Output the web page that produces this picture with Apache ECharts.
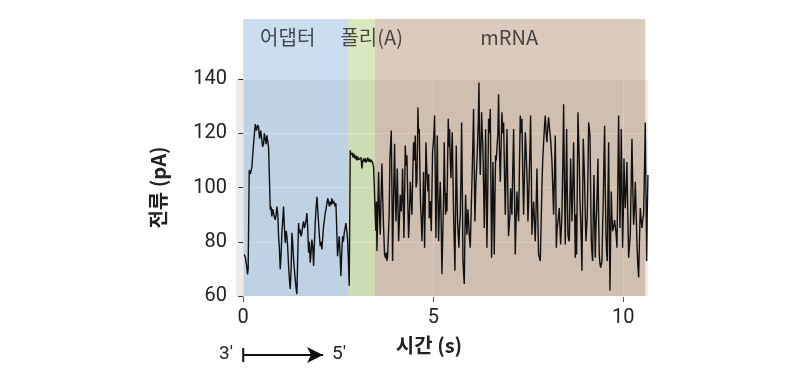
<!DOCTYPE html>
<html><head><meta charset="utf-8">
<script src="https://cdn.jsdelivr.net/npm/echarts@6/dist/echarts.min.js"></script>
<style>html,body{margin:0;padding:0;background:#fff}#c{width:800px;height:384px}</style>
</head><body><div id="c"></div>
<script>
// ---- data (time in s, current in pA) ----
const adapterTrace = [[0.026,75.3],[0.06,74],[0.09,71],[0.114,68],[0.13,70],[0.158,106.4],[0.19,105],[0.228,107.6],[0.25,112],[0.272,116.1],[0.29,119],[0.316,123.4],[0.35,121],[0.38,123],[0.404,122.2],[0.43,118],[0.46,121],[0.491,117.4],[0.51,115],[0.535,116.1],[0.555,120],[0.579,118],[0.60,116],[0.623,119.2],[0.645,117],[0.667,114.9],[0.69,115],[0.711,91.8],[0.73,93],[0.754,89.3],[0.775,92],[0.798,90.6],[0.82,89],[0.842,88.1],[0.865,90],[0.886,93],[0.91,90],[0.930,82],[0.95,78],[0.974,69.9],[0.995,75],[1.018,83.3],[1.04,88],[1.061,93],[1.085,85],[1.105,79.6],[1.13,84],[1.149,82],[1.17,78],[1.193,71.1],[1.215,66],[1.237,62.6],[1.26,70],[1.281,83.3],[1.30,80],[1.325,73.5],[1.345,70],[1.368,66.2],[1.39,63],[1.412,60.7],[1.435,75],[1.456,86.9],[1.48,83],[1.5,84.5],[1.52,82],[1.544,83.3],[1.565,86],[1.588,87.5],[1.61,85],[1.632,86.3],[1.655,88],[1.675,90.6],[1.70,84],[1.719,76],[1.74,80],[1.763,72.3],[1.785,76],[1.807,80.8],[1.83,78],[1.851,71.1],[1.875,80],[1.895,86.9],[1.915,92],[1.939,96.6],[1.96,92],[1.982,86.9],[2.005,82],[2.026,78.4],[2.05,80],[2.070,77.2],[2.09,81],[2.114,85.7],[2.135,88],[2.158,90.6],[2.18,92],[2.202,94.2],[2.225,96],[2.246,95.4],[2.27,93],[2.289,94.8],[2.31,93.5],[2.333,96],[2.36,94],[2.38,95],[2.404,95.4],[2.42,93],[2.439,94.2],[2.46,85],[2.482,74.7],[2.505,78],[2.526,82],[2.55,75],[2.570,67.4],[2.59,75],[2.614,82],[2.635,80],[2.658,83.3],[2.68,85],[2.702,86.9],[2.725,84],[2.746,80.8],[2.77,72],[2.789,63.8]];
const polyATrace = [[2.816,113.7],[2.83,112],[2.851,111.9],[2.87,112.8],[2.89,111],[2.91,112.5],[2.930,111.3],[2.95,110.5],[2.97,111.8],[2.991,110],[3.01,111.5],[3.03,110.2],[3.053,110.6],[3.075,109.5],[3.10,111],[3.123,107],[3.145,109.8],[3.167,110.6],[3.19,109.5],[3.21,110.8],[3.23,109.2],[3.254,110],[3.275,111],[3.30,109.6],[3.32,110.5],[3.342,109.4],[3.365,110.2],[3.386,110.6],[3.41,109],[3.430,107.6],[3.45,100]];
const mrnaTrace = [[3.474,89.3],[3.49,84],[3.505,94.8],[3.518,76.6],[3.54,90],[3.561,105.8],[3.585,90],[3.605,82.6],[3.625,95],[3.649,108.8],[3.67,96],[3.693,85.1],[3.719,75.3],[3.745,74],[3.765,76],[3.781,72.9],[3.80,75],[3.825,75.3],[3.84,90],[3.860,110.7],[3.895,121],[3.912,100],[3.930,72.9],[3.955,95],[3.982,116.1],[4.0,100],[4.018,87.5],[4.035,95],[4.053,107],[4.07,95],[4.088,80.2],[4.11,88],[4.132,97.3],[4.158,91.2],[4.175,96],[4.193,107],[4.21,95],[4.228,81.4],[4.245,95],[4.263,115.5],[4.285,108],[4.307,111.9],[4.33,95],[4.351,81.4],[4.375,90],[4.395,102.1],[4.415,96],[4.439,90],[4.46,105],[4.482,116.7],[4.505,110],[4.526,119.2],[4.548,100],[4.570,102.1],[4.585,115],[4.596,129.5],[4.612,120],[4.632,121.6],[4.65,105],[4.667,93.6],[4.685,88],[4.702,80.2],[4.725,92],[4.746,105.8],[4.76,92],[4.772,77.8],[4.79,95],[4.807,116.7],[4.835,105],[4.860,98.5],[4.88,105],[4.895,88.7],[4.92,95],[4.947,83.9],[4.965,98],[4.982,113.1],[5.01,118],[5.035,126.5],[5.052,105],[5.070,81.4],[5.088,100],[5.105,119.2],[5.12,100],[5.140,80.2],[5.16,92],[5.184,102.1],[5.205,90],[5.228,68],
[5.254,68],[5.27,95],[5.289,116.7],[5.307,100],[5.325,90],[5.342,98],[5.360,91.2],[5.378,110],[5.395,125.3],[5.412,115],[5.430,121.6],[5.448,110],[5.465,103.4],[5.482,112],[5.500,120.4],[5.518,105],[5.535,90],[5.552,80],[5.570,69.3],[5.59,95],[5.605,115.5],[5.622,100],[5.640,87.5],[5.658,82],[5.675,77.8],[5.69,85],[5.711,90],[5.73,105],[5.746,124],[5.765,100],[5.781,72.9],[5.80,68],[5.816,64.4],[5.835,85],[5.851,97.3],[5.87,88],[5.886,82.6],[5.91,92],[5.930,87.5],[5.95,82],[5.974,77.8],[5.995,90],[6.018,102.1],[6.04,115],[6.061,128.9],[6.08,105],[6.096,87.5],[6.115,98],[6.132,104.6],[6.15,110],[6.167,116.7],[6.185,125],[6.202,138.7],[6.22,115],[6.237,104.6],[6.255,115],[6.272,127.7],[6.29,120],[6.307,114.3],[6.325,100],[6.342,85.1],[6.36,100],[6.377,121.6],[6.395,100],[6.412,77.8],[6.435,100],[6.456,125.3],[6.478,120],[6.500,128.9],[6.518,100],[6.535,74.1],[6.552,90],[6.570,109.4],[6.588,95],[6.605,75.3],[6.622,95],[6.640,111.9],[6.658,110],[6.675,114.3],[6.70,120],[6.719,134.4],[6.74,115],[6.763,102.1],[6.785,115],[6.807,127.7],[6.83,120],[6.851,124],[6.875,105],[6.895,90],[6.915,105],[6.939,121.6],
[6.96,100],[6.98,82],[7.000,81.4],[7.018,90],[7.035,99.7],[7.052,95],[7.070,90],[7.09,105],[7.114,121.6],[7.135,100],[7.158,75.3],[7.18,88],[7.202,98.5],[7.225,92],[7.246,87.5],[7.265,105],[7.289,126.5],[7.31,120],[7.333,125.3],[7.355,105],[7.377,90],[7.40,105],[7.421,120.4],[7.44,115],[7.456,114.3],[7.475,100],[7.491,87.5],[7.51,95],[7.526,104.6],[7.545,115],[7.561,126.5],[7.58,105],[7.596,82.6],[7.62,90],[7.640,94.8],[7.66,88],[7.684,80.2],[7.705,92],[7.728,107],[7.75,90],[7.772,75.3],[7.795,74],[7.816,72.9],[7.84,88],[7.860,100.9],[7.88,110],[7.904,116.7],[7.925,122],[7.947,126.5],[7.97,120],[7.991,116.7],[8.013,122],[8.035,125.9],[8.057,122],[8.079,119.2],[8.10,115],[8.123,109.4],[8.145,100],[8.167,90],[8.19,105],[8.211,119.2],[8.225,100],[8.237,77.8],[8.26,85],[8.281,87.5],[8.30,90],[8.316,92.4],[8.335,85],[8.351,79],[8.37,85],[8.386,90],[8.41,110],[8.430,130.7],[8.452,100],[8.474,79],[8.49,100],[8.509,121.6],[8.525,100],[8.544,82.6],[8.56,81],[8.579,80.2],[8.595,95],[8.614,110.7],[8.63,100],[8.649,87.5],[8.67,100],[8.693,116.7],[8.715,95],[8.737,74.1],
[8.755,90],[8.772,75.3],[8.79,100],[8.807,127.7],[8.825,118],[8.842,109.4],[8.86,95],[8.877,88.7],[8.895,80],[8.912,69.3],[8.93,95],[8.947,118],[8.965,110],[8.982,102.1],[9.0,90],[9.018,80.2],[9.035,85],[9.053,90],[9.07,105],[9.088,124],[9.105,122],[9.123,119.2],[9.14,100],[9.158,80.2],[9.175,76],[9.193,72.9],[9.21,90],[9.228,104.6],[9.245,90],[9.263,74.1],[9.28,85],[9.298,91.2],[9.315,100],[9.333,110.7],[9.35,90],[9.368,75.3],[9.385,72],[9.404,70.5],[9.42,71],[9.439,72.9],[9.455,85],[9.474,96],[9.49,110],[9.509,122.8],[9.525,100],[9.544,82.6],[9.56,76],[9.579,72.9],[9.595,95],[9.614,116.7],[9.63,90],[9.649,62],[9.665,80],[9.684,98.5],[9.70,90],[9.719,83.9],[9.735,85],[9.754,86.3],[9.77,88],[9.789,88.7],[9.81,83],[9.833,77.8],[9.855,100],[9.877,126.5],[9.895,105],[9.912,85.1],[9.93,100],[9.947,121.6],[9.965,100],[9.982,77.8],[10.0,90],[10.018,110.7],[10.035,100],[10.053,92.4],[10.075,100],[10.096,109.4],[10.12,90],[10.140,74.1],[10.16,78],[10.184,82.6],[10.205,100],[10.228,118],[10.25,100],[10.272,86.3],[10.295,92],[10.316,102.1],[10.34,90],[10.360,79],[10.38,72],[10.404,66.8],[10.425,80],[10.447,92.4],[10.47,88],[10.491,85.1],[10.51,88],[10.535,90],[10.555,105],[10.579,124],[10.595,100],[10.614,72.9],[10.63,90],[10.649,104.6]];

const regionNames = ['어댑터', '폴리(A)', 'mRNA'];
const regionStart = [0, 2.77, 3.47];
const regionEnd = [2.77, 3.47, 10.58];
const regionLabelTime = [1.17, 3.38, 7.0];
const xTickValues = [0, 5, 10];
const strandEnds = ["3'", "5'"];
const strandFrom = 0, strandTo = 2.1;

// ---- styles ----
const bandColors = ['rgba(122,172,217,0.4)', 'rgba(160,197,92,0.4)', 'rgba(162,125,87,0.4)'];
const FONT = 'Roboto, "Noto Sans CJK KR", sans-serif';
const KFONT = '"Noto Sans CJK KR", sans-serif';
const XMIN = -0.19, XMAX = 10.65;

const trace = adapterTrace.concat(polyATrace, mrnaTrace);
const bandData = regionNames.map((n, i) => [
  { xAxis: regionStart[i], itemStyle: { color: bandColors[i] } },
  { xAxis: regionEnd[i] }
]);

const chart = echarts.init(document.getElementById('c'), null, { renderer: 'canvas' });
chart.setOption({
  animation: false,
  grid: [
    { left: 236, width: 412, top: 79, bottom: 88, show: true, backgroundColor: '#ebebeb', borderWidth: 0 },
    { left: 236, width: 412, top: 19, height: 60, show: false },
    { left: 236, width: 412, top: 345, height: 20, show: false }
  ],
  xAxis: [
    {
      gridIndex: 0, type: 'value', min: XMIN, max: XMAX, splitNumber: 2, offset: 1,
      axisLine: { show: false },
      axisTick: { show: true, length: 5, lineStyle: { color: '#555' }, customValues: xTickValues },
      axisLabel: { customValues: xTickValues, margin: 11,
        fontSize: 20, color: '#222', fontFamily: FONT },
      splitLine: { show: true, lineStyle: { color: '#ffffff', width: 1 } },
      name: '시간 (s)', nameLocation: 'middle', nameGap: 38,
      nameTextStyle: { fontSize: 20, fontWeight: 'bold', color: '#222', fontFamily: KFONT, padding: [0, 26, 0, 0] }
    },
    { gridIndex: 1, type: 'value', min: XMIN, max: XMAX, show: false },
    { gridIndex: 2, type: 'value', min: XMIN, max: XMAX, show: false }
  ],
  yAxis: [
    {
      gridIndex: 0, type: 'value', min: 60, max: 140, interval: 20, offset: 3,
      axisLine: { show: false },
      axisTick: { show: true, length: 5, lineStyle: { color: '#333' } },
      axisLabel: { margin: 6, fontSize: 20, color: '#222', fontFamily: FONT },
      splitLine: { show: true, lineStyle: { color: '#ffffff', width: 1 } },
      name: '전류 (pA)', nameLocation: 'middle', nameGap: 65,
      nameTextStyle: { fontSize: 20, fontWeight: 'bold', color: '#222', fontFamily: KFONT }
    },
    { gridIndex: 1, type: 'value', min: 0, max: 1, show: false },
    { gridIndex: 2, type: 'value', min: 0, max: 1, show: false }
  ],
  series: [
    {
      type: 'line', xAxisIndex: 0, yAxisIndex: 0, data: [], z: 1, silent: true,
      markArea: { silent: true, data: bandData }
    },
    {
      type: 'line', xAxisIndex: 1, yAxisIndex: 1, data: [], z: 1, silent: true,
      markArea: { silent: true, data: bandData }
    },
    {
      type: 'scatter', xAxisIndex: 1, yAxisIndex: 1, symbolSize: 0, silent: true, z: 5,
      data: regionNames.map((n, i) => ({ name: n, value: [regionLabelTime[i], 0.69] })),
      label: { show: true, position: 'inside', formatter: '{b}', fontSize: 20, color: '#222', fontFamily: KFONT }
    },
    {
      type: 'line', xAxisIndex: 0, yAxisIndex: 0, data: trace, z: 3,
      showSymbol: false, symbol: 'none', sampling: null, silent: true,
      lineStyle: { color: '#111', width: 1.4 }
    },
    {
      type: 'line', xAxisIndex: 2, yAxisIndex: 2, data: [], silent: true,
      markLine: {
        silent: true, animation: false,
        label: { show: false },
        lineStyle: { color: '#111', width: 2, type: 'solid' },
        data: [[
          { coord: [strandFrom, 0.5], symbol: 'rect', symbolSize: [14, 2] },
          { coord: [strandTo, 0.5], symbol: 'arrow', symbolSize: [12, 16] }
        ]]
      }
    }
  ],
  graphic: [
    { type: 'text', left: 219, top: 345, style: { text: strandEnds[0], fontSize: 19, fill: '#222', fontFamily: FONT } },
    { type: 'text', left: 332, top: 345, style: { text: strandEnds[1], fontSize: 19, fill: '#222', fontFamily: FONT } }
  ]
});
</script>
</body></html>
